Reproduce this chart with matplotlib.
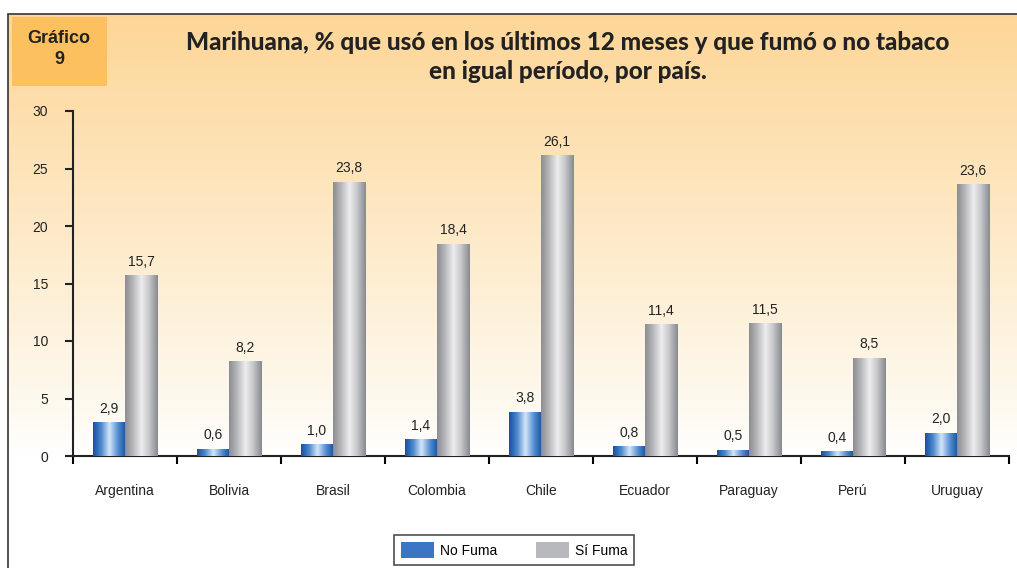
import numpy as np
import matplotlib.pyplot as plt
from matplotlib.colors import LinearSegmentedColormap
from matplotlib.patches import Rectangle, Patch

paises = ['Argentina', 'Bolivia', 'Brasil', 'Colombia', 'Chile', 'Ecuador', 'Paraguay', 'Perú', 'Uruguay']
no_fuma = [2.9, 0.6, 1.0, 1.4, 3.8, 0.8, 0.5, 0.4, 2.0]
si_fuma = [15.7, 8.2, 23.8, 18.4, 26.1, 11.4, 11.5, 8.5, 23.6]
yticks = [0, 5, 10, 15, 20, 25, 30]

plt.rcParams['font.family'] = ['Liberation Sans', 'DejaVu Sans']

fig = plt.figure(figsize=(10.17, 5.68), dpi=100)
W, H = 1017, 568

# fondo degradado naranja -> blanco
bg = fig.add_axes([8 / W, 0, 1 - 8 / W, 1 - 14 / H], zorder=-10)
grad = np.linspace(0, 1, 256).reshape(-1, 1)
bg_cmap = LinearSegmentedColormap.from_list('bg', [(0, '#fdd697'), (0.72, '#fefaf1'), (0.8, '#ffffff'), (1, '#ffffff')])
bg.imshow(grad, aspect='auto', cmap=bg_cmap, extent=[0, 1, 0, 1], origin='upper')
bg.set_xlim(0, 1)
bg.set_ylim(0, 1)
bg.axis('off')
fig.patches.append(Rectangle((8 / W, -0.01), 1.1, 1 - 14 / H + 0.01, transform=fig.transFigure,
                             fill=False, edgecolor='#333333', lw=1.2, zorder=5))

# caja "Gráfico 9"
fig.patches.append(Rectangle((12 / W, 1 - 86 / H), 95 / W, 69 / H, transform=fig.transFigure,
                             facecolor='#fdc05e', edgecolor='none', zorder=1))
fig.text(59 / W, 1 - 49 / H, 'Gráfico\n9', ha='center', va='center', fontsize=13,
         fontweight='bold', color='#222222', linespacing=1.3)
fig.text(568 / W, 1 - 57 / H, 'Marihuana, % que usó en los últimos 12 meses y que fumó o no tabaco\nen igual período, por país.',
         ha='center', va='center', fontsize=17.5, fontweight=900, color='#222222',
         family=['Lato', 'DejaVu Sans'], linespacing=1.3)

ax = fig.add_axes([73 / W, 1 - 456 / H, (1009 - 73) / W, (456 - 111) / H])
ax.patch.set_alpha(0)
n = len(paises)
x = np.arange(n)
w = 0.31

azul = LinearSegmentedColormap.from_list('azul', ['#1552a3', '#4f8ad0', '#d4e6f7', '#5a93d4', '#1a4f9c'])
gris = LinearSegmentedColormap.from_list('gris', ['#8d8e92', '#b8b9bc', '#eeeeee', '#c4c5c8', '#8a8b8f'])

b1 = ax.bar(x - w / 2, no_fuma, w, color='#3a76c4', zorder=2)
b2 = ax.bar(x + w / 2, si_fuma, w, color='#c0c0c0', zorder=2)
hgrad = np.linspace(0, 1, 64).reshape(1, -1)
for bars, cm in ((b1, azul), (b2, gris)):
    for r in bars:
        x0, y0 = r.get_x(), r.get_y()
        ax.imshow(hgrad, aspect='auto', cmap=cm, extent=[x0, x0 + r.get_width(), y0, y0 + r.get_height()],
                  zorder=3)

for i in range(n):
    ax.text(x[i] - w / 2, no_fuma[i] + 0.6, f'{no_fuma[i]:.1f}'.replace('.', ','), ha='center',
            va='bottom', fontsize=10, color='#222222')
    ax.text(x[i] + w / 2, si_fuma[i] + 0.6, f'{si_fuma[i]:.1f}'.replace('.', ','), ha='center',
            va='bottom', fontsize=10, color='#222222')

ax.set_xlim(-0.5, n - 0.5)
ax.set_ylim(0, 30)
ax.set_yticks(yticks)
ax.tick_params(axis='y', direction='out', length=6, width=1.5, labelsize=10, pad=12, colors='#222222')
ax.set_xticks(np.arange(n + 1) - 0.5)
ax.set_xticklabels([])
ax.tick_params(axis='x', which='major', direction='out', length=6, width=1.5)
ax.set_xticks(x, minor=True)
ax.set_xticklabels(paises, minor=True)
ax.tick_params(axis='x', which='minor', length=0, pad=20, labelsize=10, colors='#222222')
for s in ['top', 'right']:
    ax.spines[s].set_visible(False)
for s in ['left', 'bottom']:
    ax.spines[s].set_linewidth(1.5)
    ax.spines[s].set_color('#222222')

# leyenda
h = [Patch(facecolor='#3a76c4', edgecolor='none'), Patch(facecolor='#b8b9bc', edgecolor='none')]
leg = fig.legend(h, ['No Fuma', 'Sí Fuma'], loc='center', bbox_to_anchor=(514 / W, 1 - 550 / H),
                 ncol=2, fontsize=10, frameon=True, fancybox=False, edgecolor='#222222',
                 handlelength=2.4, handleheight=1.3, handletextpad=0.4, columnspacing=2.8,
                 borderpad=0.5, borderaxespad=0)
leg.get_frame().set_linewidth(1.2)

fig.savefig('out.png', dpi=100)
